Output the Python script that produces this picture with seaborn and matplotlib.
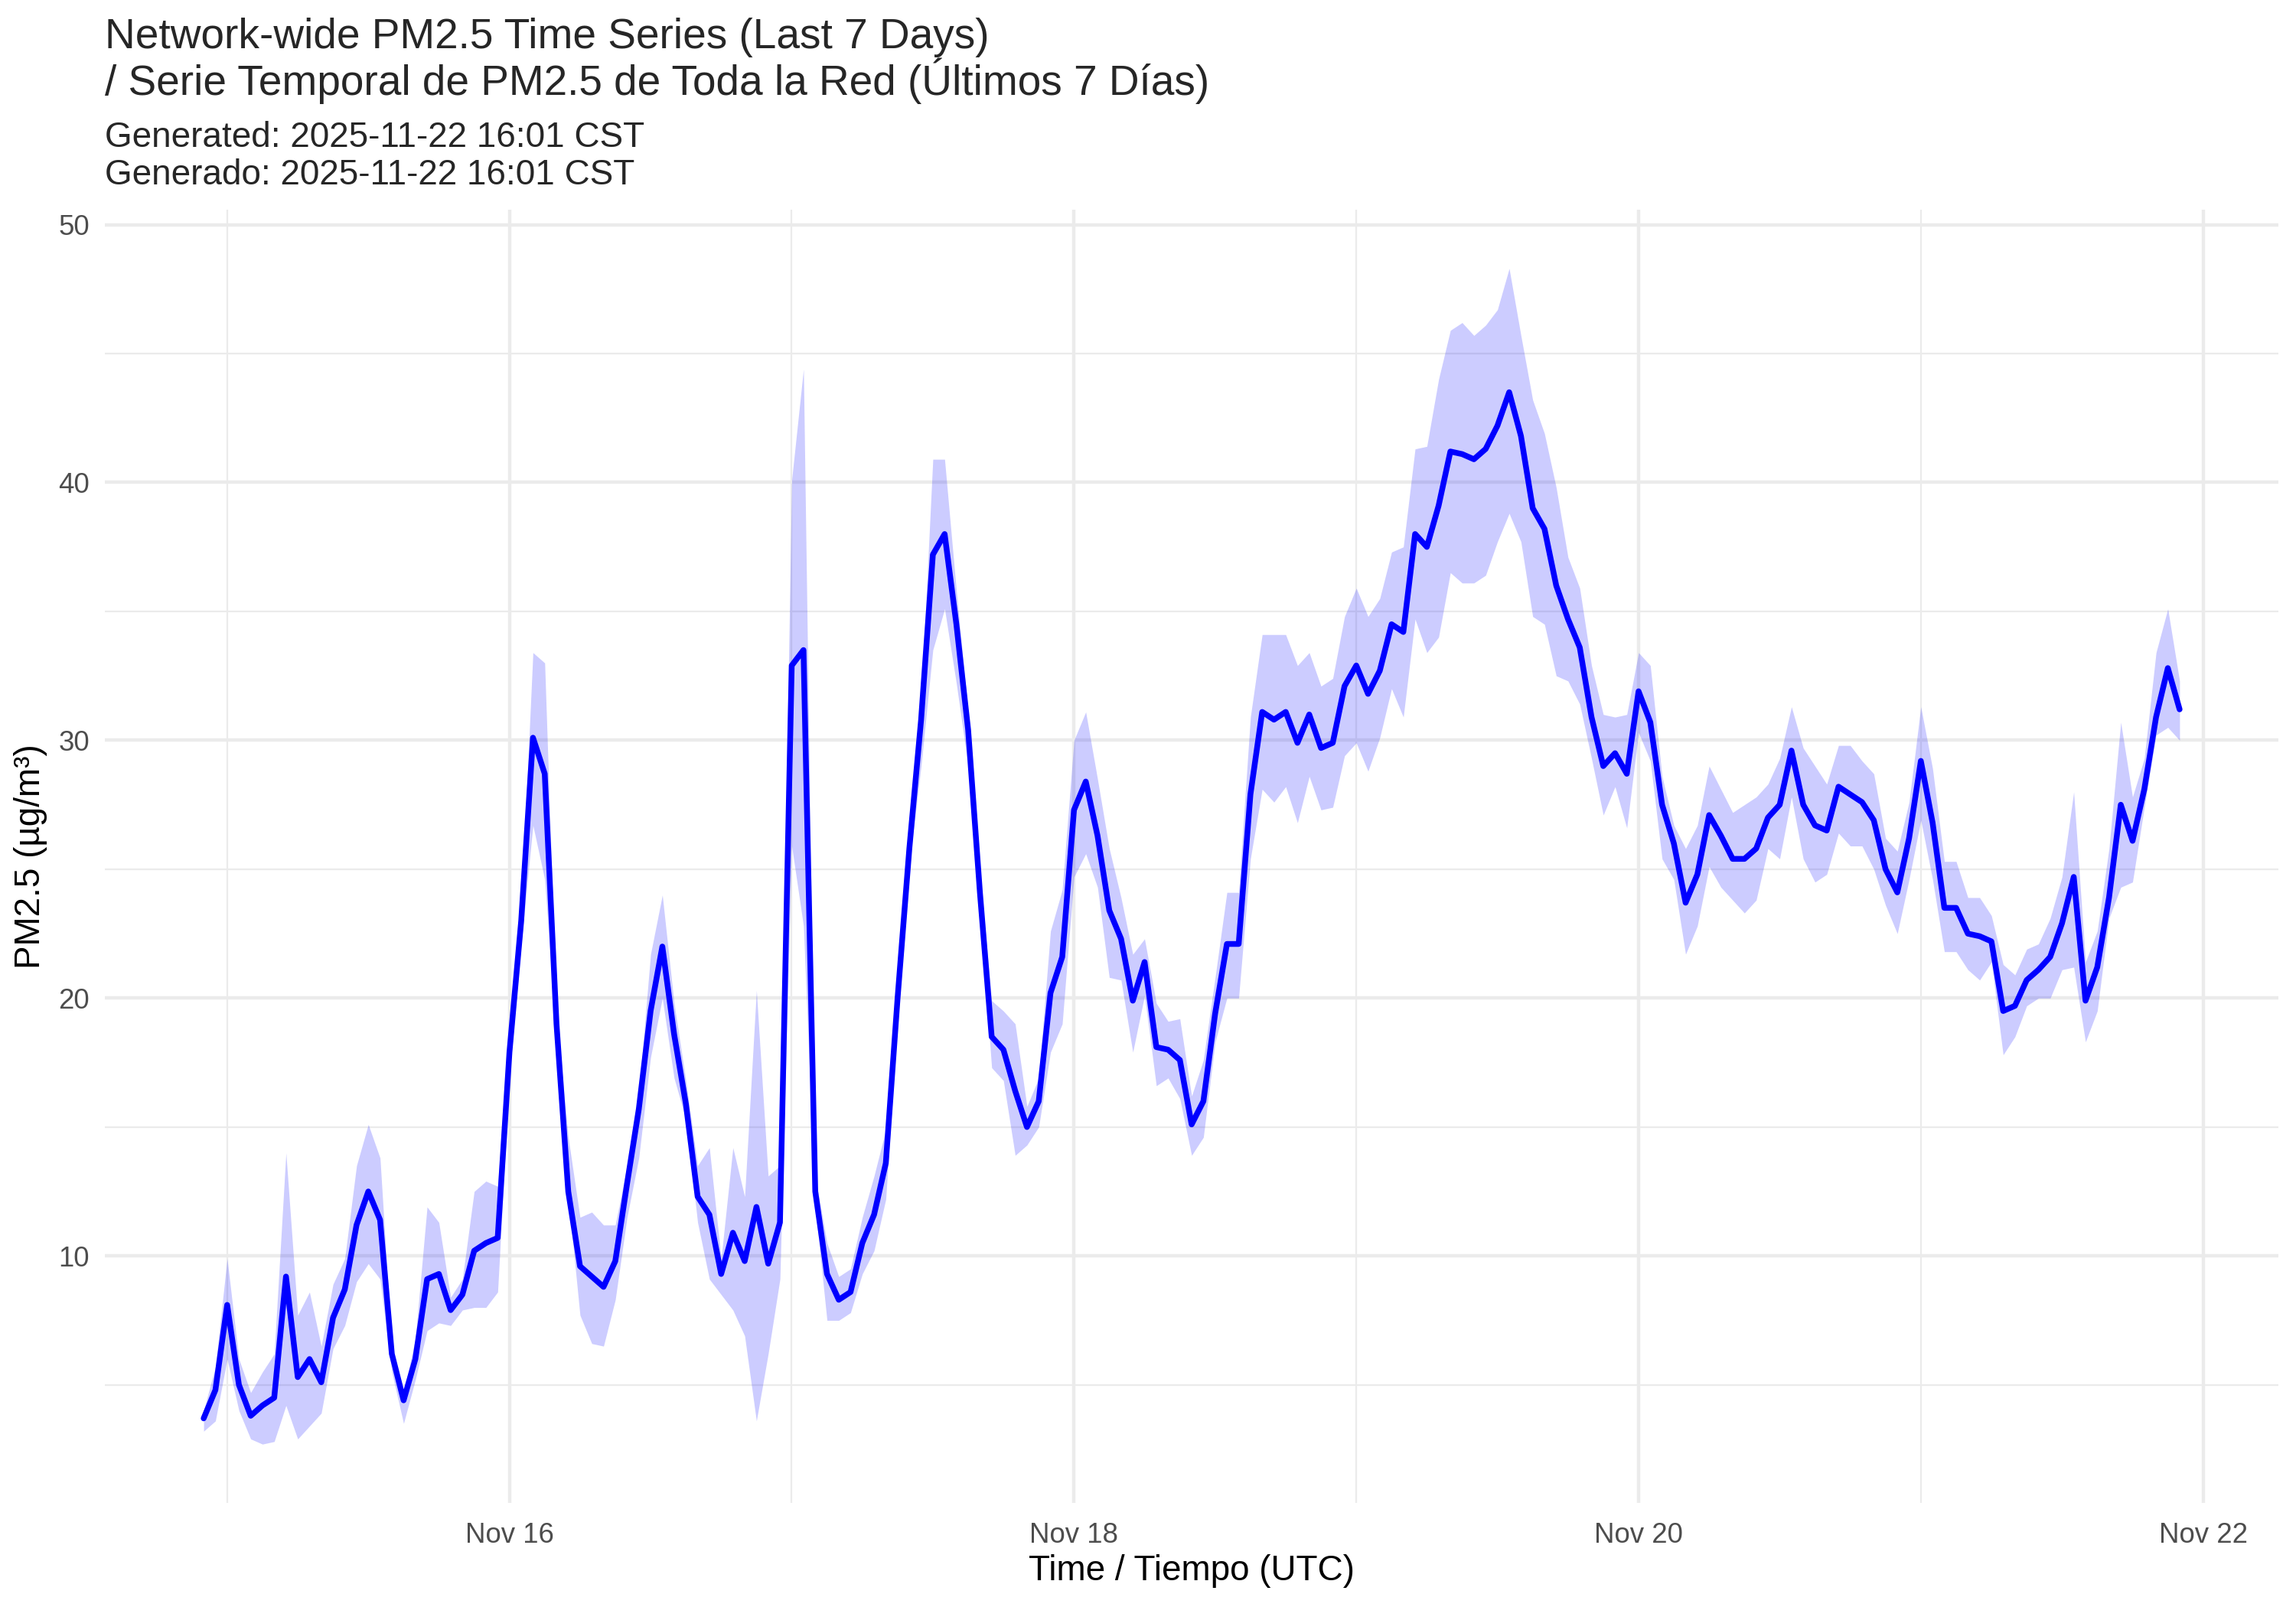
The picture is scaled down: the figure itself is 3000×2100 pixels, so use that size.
import pandas as pd
import matplotlib
matplotlib.use("Agg")
import matplotlib.pyplot as plt
import matplotlib.dates as mdates
import matplotlib.ticker as mticker
import seaborn as sns

# hourly network-wide PM2.5, starting 2025-11-14 22:00 UTC
start_time = "2025-11-14 22:00"

pm_mean = [3.7, 4.8, 8.1, 5.0, 3.8, 4.2, 4.5, 9.2, 5.3, 6.0,
           5.1, 7.6, 8.7, 11.2, 12.5, 11.4, 6.2, 4.4, 6.0, 9.1,
           9.3, 7.9, 8.5, 10.2, 10.5, 10.7, 17.9, 23.0, 30.1, 28.7,
           19.0, 12.5, 9.6, 9.2, 8.8, 9.8, 12.8, 15.7, 19.5, 22.0,
           18.6, 15.9, 12.3, 11.6, 9.3, 10.9, 9.8, 11.9, 9.7, 11.3,
           32.9, 33.5, 12.5, 9.3, 8.3, 8.6, 10.5, 11.6, 13.6, 20.0,
           25.8, 30.8, 37.2, 38.0, 34.5, 30.4, 24.1, 18.5, 18.0, 16.4,
           15.0, 16.0, 20.2, 21.6, 27.3, 28.4, 26.3, 23.4, 22.3, 19.9,
           21.4, 18.1, 18.0, 17.6, 15.1, 16.0, 19.4, 22.1, 22.1, 27.9,
           31.1, 30.8, 31.1, 29.9, 31.0, 29.7, 29.9, 32.1, 32.9, 31.8,
           32.7, 34.5, 34.2, 38.0, 37.5, 39.1, 41.2, 41.1, 40.9, 41.3,
           42.2, 43.5, 41.8, 39.0, 38.2, 36.0, 34.7, 33.6, 30.9, 29.0,
           29.5, 28.7, 31.9, 30.7, 27.5, 26.0, 23.7, 24.8, 27.1, 26.3,
           25.4, 25.4, 25.8, 27.0, 27.5, 29.6, 27.5, 26.7, 26.5, 28.2,
           27.9, 27.6, 26.9, 25.0, 24.1, 26.2, 29.2, 26.8, 23.5, 23.5,
           22.5, 22.4, 22.2, 19.5, 19.7, 20.7, 21.1, 21.6, 22.9, 24.7,
           19.9, 21.2, 23.9, 27.5, 26.1, 28.1, 30.9, 32.8, 31.2]

pm_upper = [4.0, 5.7, 9.9, 6.0, 4.7, 5.5, 6.2, 14.0, 7.7, 8.6,
            6.5, 8.9, 9.9, 13.5, 15.1, 13.8, 6.5, 4.7, 6.8, 11.9,
            11.3, 8.4, 9.1, 12.5, 12.9, 12.7, 18.8, 23.5, 33.4, 33.0,
            19.4, 14.6, 11.5, 11.7, 11.2, 11.2, 13.5, 16.3, 21.7, 24.0,
            19.8, 16.8, 13.5, 14.2, 9.9, 14.2, 12.3, 20.3, 13.1, 13.5,
            40.1, 44.4, 13.1, 10.5, 9.2, 9.5, 11.5, 13.1, 14.9, 20.5,
            26.4, 31.5, 40.9, 40.9, 35.8, 31.1, 24.9, 19.9, 19.5, 19.0,
            15.8, 16.9, 22.6, 24.2, 30.0, 31.1, 28.5, 25.8, 23.9, 21.7,
            22.3, 19.8, 19.1, 19.2, 16.2, 17.6, 20.8, 24.1, 24.1, 30.9,
            34.1, 34.1, 34.1, 32.9, 33.4, 32.1, 32.4, 34.8, 35.9, 34.8,
            35.5, 37.3, 37.5, 41.3, 41.4, 44.0, 45.9, 46.2, 45.7, 46.1,
            46.7, 48.3, 45.7, 43.2, 41.9, 39.8, 37.1, 35.9, 32.9, 31.0,
            30.9, 31.0, 33.4, 32.9, 28.6, 26.7, 25.8, 26.7, 29.0, 28.1,
            27.2, 27.5, 27.8, 28.3, 29.3, 31.3, 29.7, 29.0, 28.3, 29.8,
            29.8, 29.2, 28.7, 26.2, 25.7, 27.6, 31.3, 28.9, 25.3, 25.3,
            23.9, 23.9, 23.2, 21.3, 20.9, 21.9, 22.1, 23.1, 24.7, 28.0,
            21.4, 22.6, 25.8, 30.7, 27.8, 29.3, 33.4, 35.1, 32.3]

pm_lower = [3.2, 3.6, 6.0, 4.0, 2.9, 2.7, 2.8, 4.2, 2.9, 3.4,
            3.9, 6.4, 7.3, 9.0, 9.7, 9.1, 5.5, 3.5, 5.2, 7.1,
            7.4, 7.3, 7.9, 8.0, 8.0, 8.6, 17.0, 22.1, 26.7, 24.6,
            18.3, 12.3, 7.7, 6.6, 6.5, 8.3, 11.5, 13.8, 17.7, 20.0,
            16.9, 15.3, 11.3, 9.1, 8.5, 7.9, 6.9, 3.6, 6.2, 9.1,
            25.9, 22.8, 11.9, 7.5, 7.5, 7.8, 9.3, 10.2, 12.2, 19.3,
            25.2, 29.0, 33.5, 35.1, 32.2, 29.0, 23.5, 17.3, 16.8, 13.9,
            14.3, 15.0, 17.9, 19.0, 24.7, 25.6, 24.3, 20.8, 20.7, 17.9,
            20.1, 16.6, 16.9, 16.1, 13.9, 14.6, 18.3, 20.0, 20.0, 25.4,
            28.1, 27.6, 28.2, 26.8, 28.6, 27.3, 27.4, 29.4, 29.9, 28.8,
            30.1, 32.0, 30.9, 34.7, 33.4, 34.0, 36.5, 36.1, 36.1, 36.4,
            37.7, 38.8, 37.7, 34.8, 34.5, 32.5, 32.3, 31.4, 29.3, 27.1,
            28.2, 26.6, 30.3, 29.2, 25.4, 24.6, 21.7, 22.8, 25.1, 24.3,
            23.8, 23.3, 23.8, 25.8, 25.4, 27.8, 25.4, 24.5, 24.8, 26.4,
            25.9, 25.9, 25.0, 23.6, 22.5, 24.6, 26.9, 24.6, 21.8, 21.8,
            21.1, 20.7, 21.4, 17.8, 18.5, 19.7, 20.0, 20.0, 21.1, 21.2,
            18.3, 19.5, 23.1, 24.3, 24.5, 27.4, 30.2, 30.5, 30.0]

title = ("Network-wide PM2.5 Time Series (Last 7 Days)\n"
         "/ Serie Temporal de PM2.5 de Toda la Red (Últimos 7 Días)")
subtitle = "Generated: 2025-11-22 16:01 CST\nGenerado: 2025-11-22 16:01 CST"

df = pd.DataFrame({
    "time": pd.date_range(start_time, periods=len(pm_mean), freq="h"),
    "pm25": pm_mean,
    "upper": pm_upper,
    "lower": pm_lower,
})

sns.set_theme(style="white")
plt.rcParams["font.family"] = ["Liberation Sans", "DejaVu Sans"]

W, H = 3000, 2100
fig = plt.figure(figsize=(10, 7), dpi=300)
ax = fig.add_axes([137 / W, 1 - 1964 / H, (2977 - 137) / W, (1964 - 274) / H])

ax.fill_between(df["time"], df["lower"], df["upper"], color="blue", alpha=0.2,
                linewidth=0, zorder=2)
sns.lineplot(data=df, x="time", y="pm25", estimator=None, color="#0000FF",
             linewidth=1.8, ax=ax, zorder=3)
ax.margins(x=0.05, y=0.05)

ax.xaxis.set_major_locator(mdates.DayLocator(bymonthday=[16, 18, 20, 22]))
ax.xaxis.set_minor_locator(mdates.DayLocator(bymonthday=[15, 17, 19, 21]))
ax.xaxis.set_major_formatter(mdates.DateFormatter("%b %d"))
ax.yaxis.set_major_locator(mticker.MultipleLocator(10))
ax.yaxis.set_minor_locator(mticker.MultipleLocator(5))

ax.grid(which="major", color="#EBEBEB", linewidth=1.07, zorder=0)
ax.grid(which="minor", color="#EBEBEB", linewidth=0.53, zorder=0)
ax.set_axisbelow(True)
for s in ax.spines.values():
    s.set_visible(False)

ax.tick_params(axis="both", which="both", length=0, labelsize=8.8,
               labelcolor="#4D4D4D")
ax.tick_params(axis="x", pad=6)
ax.tick_params(axis="y", pad=4.8)

ax.set_xlabel("Time / Tiempo (UTC)", fontsize=11, color="black", va="center")
ax.set_ylabel("PM2.5 (µg/m³)", fontsize=11, color="black", va="center")
ax.xaxis.set_label_coords(0.5, (1964 - 2053) / 1690)
ax.yaxis.set_label_coords((40 - 137) / 2840, 0.5)

fig.text(137 / W, 1 - 124 / H, title, fontsize=13.2, ha="left", va="baseline",
         linespacing=1.02)
fig.text(137 / W, 1 - 241 / H, subtitle, fontsize=11, ha="left", va="baseline",
         linespacing=1.15)

fig.savefig("out.png", dpi=300, facecolor="white")
